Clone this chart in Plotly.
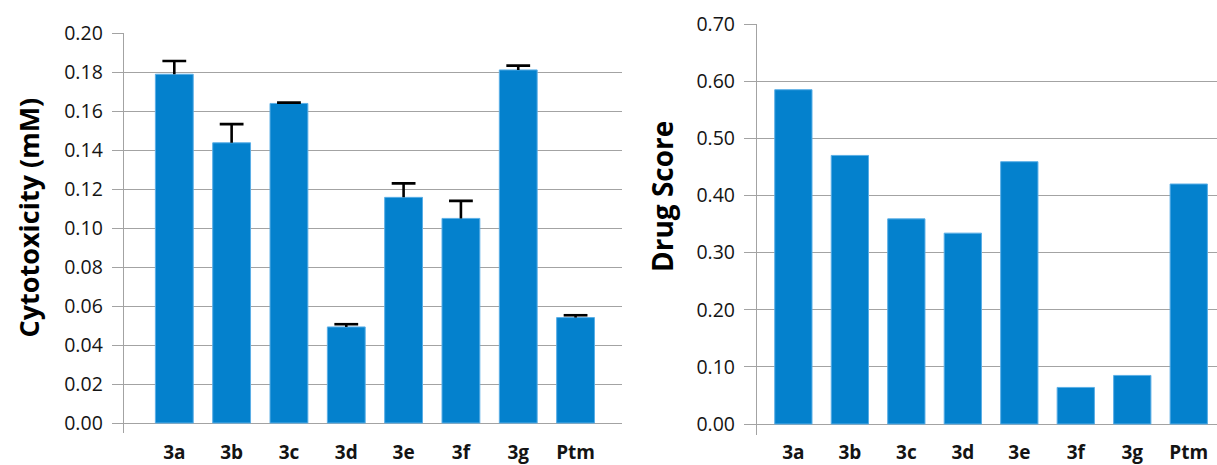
import plotly.graph_objects as go

# ---- data ----
categories = ["3a", "3b", "3c", "3d", "3e", "3f", "3g", "Ptm"]
cytotoxicity = [0.179, 0.1438, 0.164, 0.0493, 0.1158, 0.105, 0.1812, 0.0541]
cytotoxicity_err = [0.0068, 0.0096, 0.0004, 0.0014, 0.0072, 0.009, 0.0022, 0.0012]
drug_score = [0.585, 0.47, 0.359, 0.334, 0.459, 0.064, 0.085, 0.42]
cyto_ticks = [0.00, 0.02, 0.04, 0.06, 0.08, 0.10, 0.12, 0.14, 0.16, 0.18, 0.20]
drug_ticks = [0.00, 0.10, 0.20, 0.30, 0.40, 0.50, 0.60, 0.70]

BAR = "#0481cd"
EDGE = "#5aaee6"
GRID = "#a3a3a3"
TXT = "#141414"
FONT = "Open Sans"

W, H = 1217, 465

cap_tops = [v + e for v, e in zip(cytotoxicity, cytotoxicity_err)]

fig = go.Figure()
fig.add_trace(go.Bar(
    x=categories, y=cytotoxicity, width=0.66,
    marker=dict(color=BAR, line=dict(color=EDGE, width=1)),
    error_y=dict(type="data", symmetric=False, array=cytotoxicity_err,
                 arrayminus=[0] * len(cytotoxicity_err),
                 color="black", thickness=2.6, width=0),
    xaxis="x", yaxis="y", showlegend=False, hoverinfo="skip",
))
# error-bar caps (top only, as in the reference)
fig.add_trace(go.Scatter(
    x=categories, y=cap_tops, mode="markers",
    marker=dict(symbol="line-ew", size=17, color="black",
                line=dict(color="black", width=2.6)),
    xaxis="x", yaxis="y", showlegend=False, hoverinfo="skip",
))
fig.add_trace(go.Bar(
    x=categories, y=drug_score, width=0.66,
    marker=dict(color=BAR, line=dict(color=EDGE, width=1)),
    xaxis="x2", yaxis="y2", showlegend=False,
))

tickfont = dict(family=FONT, size=19.5, color=TXT)
xfont = dict(family=FONT, size=19, color=TXT, weight="bold")

fig.update_layout(
    width=W, height=H, autosize=False,
    margin=dict(l=0, r=0, t=0, b=0, pad=0),
    paper_bgcolor="white", plot_bgcolor="white",
    xaxis=dict(domain=[123.8 / W, 622 / W], range=[-0.881, 7.81],
               type="category", showgrid=False, showline=False, zeroline=False,
               ticks="", tickfont=xfont, ticklabelstandoff=6, anchor="y",
               automargin=False),
    yaxis=dict(domain=[1 - 433 / H, 1 - 33.3 / H], range=[-0.00513, 0.2],
               tickvals=cyto_ticks, tickformat=".2f", tickfont=tickfont,
               showgrid=True, gridcolor=GRID, gridwidth=1.2,
               zeroline=True, zerolinecolor=GRID, zerolinewidth=1.2,
               showline=True, linecolor=GRID, linewidth=1.2,
               ticks="outside", ticklen=11, tickcolor=GRID, tickwidth=1.2,
               ticklabelstandoff=5, anchor="x", automargin=False),
    xaxis2=dict(domain=[757 / W, 1.0], range=[-0.644, 7.5],
                type="category", showgrid=False, showline=False, zeroline=False,
                ticks="", tickfont=xfont, ticklabelstandoff=4, anchor="y2",
                automargin=False),
    yaxis2=dict(domain=[1 - 435 / H, 1 - 24 / H], range=[-0.01925, 0.7],
                tickvals=drug_ticks, tickformat=".2f", tickfont=tickfont,
                showgrid=True, gridcolor=GRID, gridwidth=1.2,
                zeroline=True, zerolinecolor=GRID, zerolinewidth=1.2,
                showline=True, linecolor=GRID, linewidth=1.2,
                ticks="outside", ticklen=12, tickcolor=GRID, tickwidth=1.2,
                ticklabelstandoff=5, anchor="x2", automargin=False),
    annotations=[
        dict(text="<b>Cytotoxicity (mM)</b>", textangle=-90,
             xref="paper", yref="paper", x=28 / W, y=1 - 217.5 / H,
             xanchor="center", yanchor="middle", showarrow=False,
             font=dict(family=FONT, size=27, color="black")),
        dict(text="<b>Drug Score</b>", textangle=-90,
             xref="paper", yref="paper", x=662 / W, y=1 - 197 / H,
             xanchor="center", yanchor="middle", showarrow=False,
             font=dict(family=FONT, size=28, color="black")),
    ],
)

fig.write_html(
    "out.html",
    config={"displayModeBar": False},
    post_script="document.body.style.margin='0px';document.body.style.overflow='hidden';",
)
